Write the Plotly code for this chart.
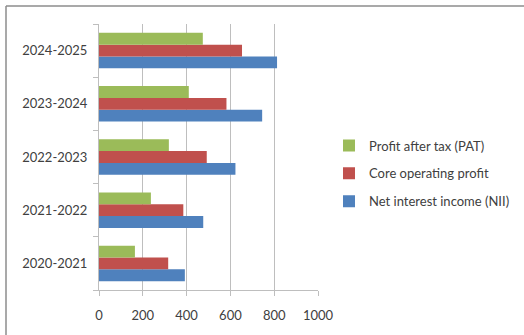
import plotly.graph_objects as go

years = ["2020-2021", "2021-2022", "2022-2023", "2023-2024", "2024-2025"]
nii = [392, 476, 623, 745, 813]
core = [316, 385, 492, 582, 653]
pat = [164, 237, 319, 410, 474]
x_ticks = [0, 200, 400, 600, 800, 1000]

FONT = "Lato, 'Open Sans', sans-serif"
fig = go.Figure()
fig.add_trace(go.Bar(y=years, x=nii, orientation="h", name="Net interest income (NII)",
                     marker=dict(color="#4F81BD", line=dict(width=0)),
                     legendgroup="a", legendrank=3))
fig.add_trace(go.Bar(y=years, x=core, orientation="h", name="Core operating profit",
                     marker=dict(color="#C0504D", line=dict(width=0)),
                     legendgroup="b", legendrank=2))
fig.add_trace(go.Bar(y=years, x=pat, orientation="h", name="Profit after tax (PAT)",
                     marker=dict(color="#9BBB59", line=dict(width=0)),
                     legendgroup="c", legendrank=1))

L, R, T, B = 99, 318, 24, 290
W, H = 524, 335
pw, ph = R - L, B - T

def px(xp):
    return (xp - L) / pw

def py(yp):
    return 1 - (yp - T) / ph

fig.update_layout(
    width=W, height=H,
    margin=dict(l=L, r=W - R, t=T, b=H - B, pad=0, autoexpand=False),
    paper_bgcolor="white", plot_bgcolor="white",
    barmode="group", bargap=0.333, bargroupgap=0,
    font=dict(family=FONT, size=13, color="#404040"),
    showlegend=True,
    legend=dict(x=px(329), y=py(173.5), xanchor="left", yanchor="middle",
                traceorder="grouped", tracegroupgap=8,
                font=dict(family=FONT, size=13, color="#404040"),
                itemwidth=30, bgcolor="rgba(0,0,0,0)"),
    xaxis=dict(range=[0, 1000], tickvals=x_ticks, ticktext=[str(v) for v in x_ticks],
               showgrid=True, gridcolor="#BEBEBE", gridwidth=1,
               showline=True, linecolor="#BEBEBE", linewidth=1,
               ticks="outside", ticklen=5, tickcolor="#BEBEBE",
               zeroline=False, ticklabelstandoff=8, fixedrange=True),
    yaxis=dict(type="category", categoryorder="array", categoryarray=years,
               range=[-0.5, 4.5], showgrid=False, showline=True,
               linecolor="#BEBEBE", linewidth=1, ticks="outside", ticklen=5,
               tickcolor="#BEBEBE", tickson="boundaries", ticklabelstandoff=8,
               fixedrange=True),
    shapes=[
        dict(type="line", xref="paper", yref="paper", x0=px(6), x1=px(530),
             y0=py(6), y1=py(6), line=dict(color="#8C8C8C", width=1.5)),
        dict(type="line", xref="paper", yref="paper", x0=px(6), x1=px(6),
             y0=py(6), y1=py(340), line=dict(color="#8C8C8C", width=1.5)),
    ],
)

fig.write_html("out.html")
